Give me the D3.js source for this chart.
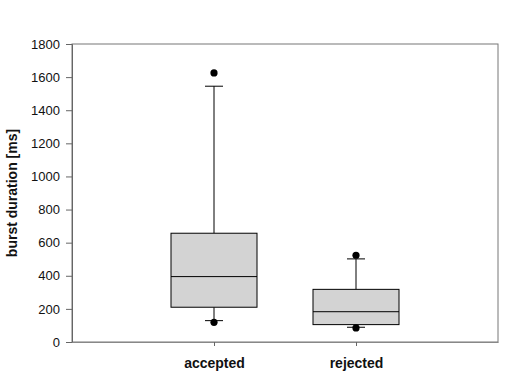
<!DOCTYPE html>
<html><head><meta charset="utf-8">
<script src="https://cdn.jsdelivr.net/npm/d3@7"></script>
<style>body{margin:0;background:#fff}</style>
</head><body>
<svg id="c" width="520" height="390"></svg>
<script>
const categories = ["accepted", "rejected"];
const q1 = [210, 105];
const median = [395, 183];
const q3 = [657, 318];
const whiskerLow = [129, 89];
const whiskerHigh = [1545, 502];
const outliers = [[1625, 119], [524, 85]];
const yTicks = [0, 200, 400, 600, 800, 1000, 1200, 1400, 1600, 1800];

const svg = d3.select("#c");
const L = 72, R = 498, T = 44, B = 342;
const x = d3.scalePoint().domain(categories).range([L, R]).padding(1);
const y = d3.scaleLinear().domain([0, 1800]).range([B, T]);
const boxW = 86, capW = 18;
const font = "Liberation Sans, Arial, sans-serif";

// frame
svg.append("rect").attr("x", L).attr("y", T).attr("width", R - L).attr("height", B - T)
  .attr("fill", "none").attr("stroke", "#777").attr("stroke-width", 1);

// y axis
const ya = svg.append("g").attr("transform", `translate(${L},0)`)
  .call(d3.axisLeft(y).tickValues(yTicks).tickSize(6).tickPadding(6).tickFormat(d3.format("d")));
ya.select(".domain").attr("stroke", "#666");
ya.selectAll(".tick line").attr("stroke", "#666");
ya.selectAll("text").attr("font-family", font).attr("font-size", 13).attr("fill", "#111");

// x axis
const xa = svg.append("g").attr("transform", `translate(0,${B})`)
  .call(d3.axisBottom(x).tickSize(4).tickPadding(12).tickSizeOuter(0));
xa.select(".domain").attr("stroke", "#888");
xa.selectAll(".tick line").attr("stroke", "#666");
xa.selectAll("text").attr("font-family", font).attr("font-size", 14).attr("font-weight", "bold").attr("fill", "#111");

// y label
svg.append("text").attr("transform", `translate(17,${(T + B) / 2}) rotate(-90)`)
  .attr("text-anchor", "middle").attr("font-family", font).attr("font-size", 14)
  .attr("font-weight", "bold").attr("fill", "#111").text("burst duration [ms]");

categories.forEach((c, i) => {
  const cx = x(c);
  const g = svg.append("g").attr("stroke", "#000").attr("stroke-width", 1);
  g.append("line").attr("x1", cx).attr("x2", cx).attr("y1", y(whiskerHigh[i])).attr("y2", y(q3[i]));
  g.append("line").attr("x1", cx).attr("x2", cx).attr("y1", y(q1[i])).attr("y2", y(whiskerLow[i]));
  g.append("line").attr("x1", cx - capW / 2).attr("x2", cx + capW / 2).attr("y1", y(whiskerHigh[i])).attr("y2", y(whiskerHigh[i]));
  g.append("line").attr("x1", cx - capW / 2).attr("x2", cx + capW / 2).attr("y1", y(whiskerLow[i])).attr("y2", y(whiskerLow[i]));
  g.append("rect").attr("x", cx - boxW / 2).attr("y", y(q3[i])).attr("width", boxW)
    .attr("height", y(q1[i]) - y(q3[i])).attr("fill", "#d3d3d3");
  g.append("line").attr("x1", cx - boxW / 2).attr("x2", cx + boxW / 2).attr("y1", y(median[i])).attr("y2", y(median[i]));
  outliers[i].forEach(v => {
    svg.append("circle").attr("cx", cx).attr("cy", y(v)).attr("r", 3.6).attr("fill", "#000");
  });
});
</script>
</body></html>
